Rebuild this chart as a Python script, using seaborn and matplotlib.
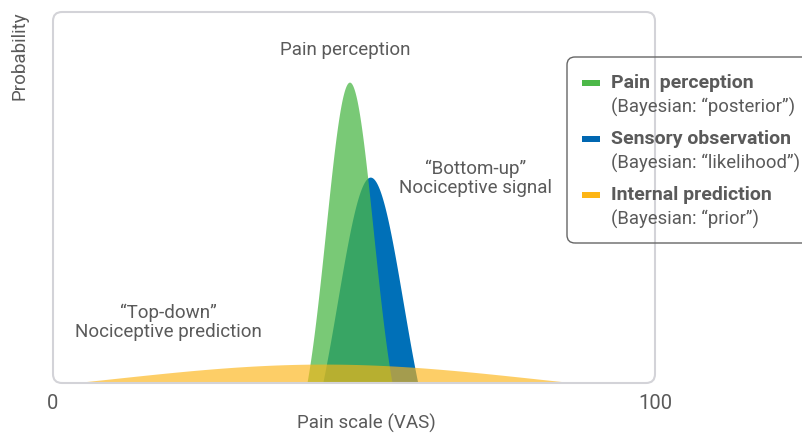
import numpy as np
import pandas as pd
import matplotlib
matplotlib.use("Agg")
import matplotlib.pyplot as plt
import seaborn as sns
from matplotlib.patches import FancyBboxPatch, Rectangle
from matplotlib.transforms import IdentityTransform

# ---- data ----
series = ["Internal prediction", "Sensory observation", "Pain perception"]
means = [45.0, 52.7, 49.25]         # VAS units
sds = [35.5, 5.45, 3.94]            # VAS units
peaks = [0.051, 0.555, 0.811]       # fraction of plot height
cutoffs = [0.5, 0.35, 0.2]          # fraction of Gaussian peak where the curve meets baseline
colors = ["#FDB515", "#0070B8", "#4CB848"]
alphas = [0.65, 1.0, 0.75]
zorders = [5, 3, 4]
legend_titles = ["Pain  perception", "Sensory observation", "Internal prediction"]
legend_subs = ["(Bayesian: \u201cposterior\u201d)", "(Bayesian: \u201clikelihood\u201d)", "(Bayesian: \u201cprior\u201d)"]
legend_colors = ["#4CB848", "#0067B1", "#FDB515"]
x_ticks = [0, 100]
x_tick_labels = ["0", "100"]

W, H = 803, 433
sns.set_theme(style="white")
plt.rcParams["font.family"] = ["Roboto", "DejaVu Sans"]
TXT = "#5a5a5a"

fig = plt.figure(figsize=(W / 100, H / 100), dpi=100)
L, R, T, B = 53, 655, 12, 383
ax = fig.add_axes([L / W, 1 - B / H, (R - L) / W, (B - T) / H])
ax.set_xlim(0, 100)
ax.set_ylim(0, 1)
for s in ax.spines.values():
    s.set_visible(False)
ax.patch.set_alpha(0)

x = np.linspace(0, 100, 4001)
rows = []
for name, m, sd, pk, c in zip(series, means, sds, peaks, cutoffs):
    g = np.exp(-0.5 * ((x - m) / sd) ** 2)
    y = np.clip((g - c) / (1 - c), 0, None) * pk
    rows.append(pd.DataFrame({"x": x, "y": y, "series": name}))
df = pd.concat(rows)

for name, col, a, z in zip(series, colors, alphas, zorders):
    d = df[df.series == name]
    ax.fill_between(d.x, 0, d.y, where=d.y > 0, color=col, alpha=a, lw=0, zorder=z)
sns.lineplot(data=df, x="x", y="y", hue="series", palette=dict(zip(series, colors)),
             lw=0, legend=False, ax=ax)

# rounded plot frame
frame = FancyBboxPatch((L, H - B), R - L, B - T, boxstyle="round,pad=0,rounding_size=9",
                       transform=IdentityTransform(), fill=False, ec="#d3d3d8", lw=1.5, zorder=1)
fig.patches.append(frame)

ax.set_xticks(x_ticks)
ax.set_xticklabels(x_tick_labels, color=TXT, fontsize=14.5)
ax.tick_params(axis="x", length=0, pad=8)
ax.set_yticks([])
ax.set_xlabel("")
ax.set_ylabel("")

def fx(px):
    return px / W
def fy(py):
    return 1 - py / H

fig.text(fx(366), fy(423), "Pain scale (VAS)", ha="center", va="center", color=TXT, fontsize=13.5)
fig.text(fx(20), fy(56), "Probability", rotation=90, ha="center", va="center", color=TXT, fontsize=13.5)

# annotations
fig.text(fx(345), fy(50), "Pain perception", ha="center", va="center", color=TXT, fontsize=13.5)
fig.text(fx(476), fy(178), "\u201cBottom-up\u201d\nNociceptive signal", ha="center", va="center",
         color=TXT, fontsize=13.5, linespacing=1.05)
fig.text(fx(168), fy(322), "\u201cTop-down\u201d\nNociceptive prediction", ha="center", va="center",
         color=TXT, fontsize=13.5, linespacing=1.05)

# legend
lbox = FancyBboxPatch((567, H - 243), 260, 186, boxstyle="round,pad=0,rounding_size=8",
                      transform=IdentityTransform(), fill=False, ec="#666666", lw=1.0, zorder=1)
fig.patches.append(lbox)
ys = [83, 139, 195]
for yy, t, st, c in zip(ys, legend_titles, legend_subs, legend_colors):
    fig.patches.append(Rectangle((582, H - yy - 3), 18, 6, transform=IdentityTransform(), color=c, lw=0))
    fig.text(fx(611), fy(yy), t, ha="left", va="center", color=TXT, fontsize=14, fontweight="bold")
    fig.text(fx(611), fy(yy + 24), st, ha="left", va="center", color=TXT, fontsize=13.3)

fig.savefig("out.png", dpi=100)
